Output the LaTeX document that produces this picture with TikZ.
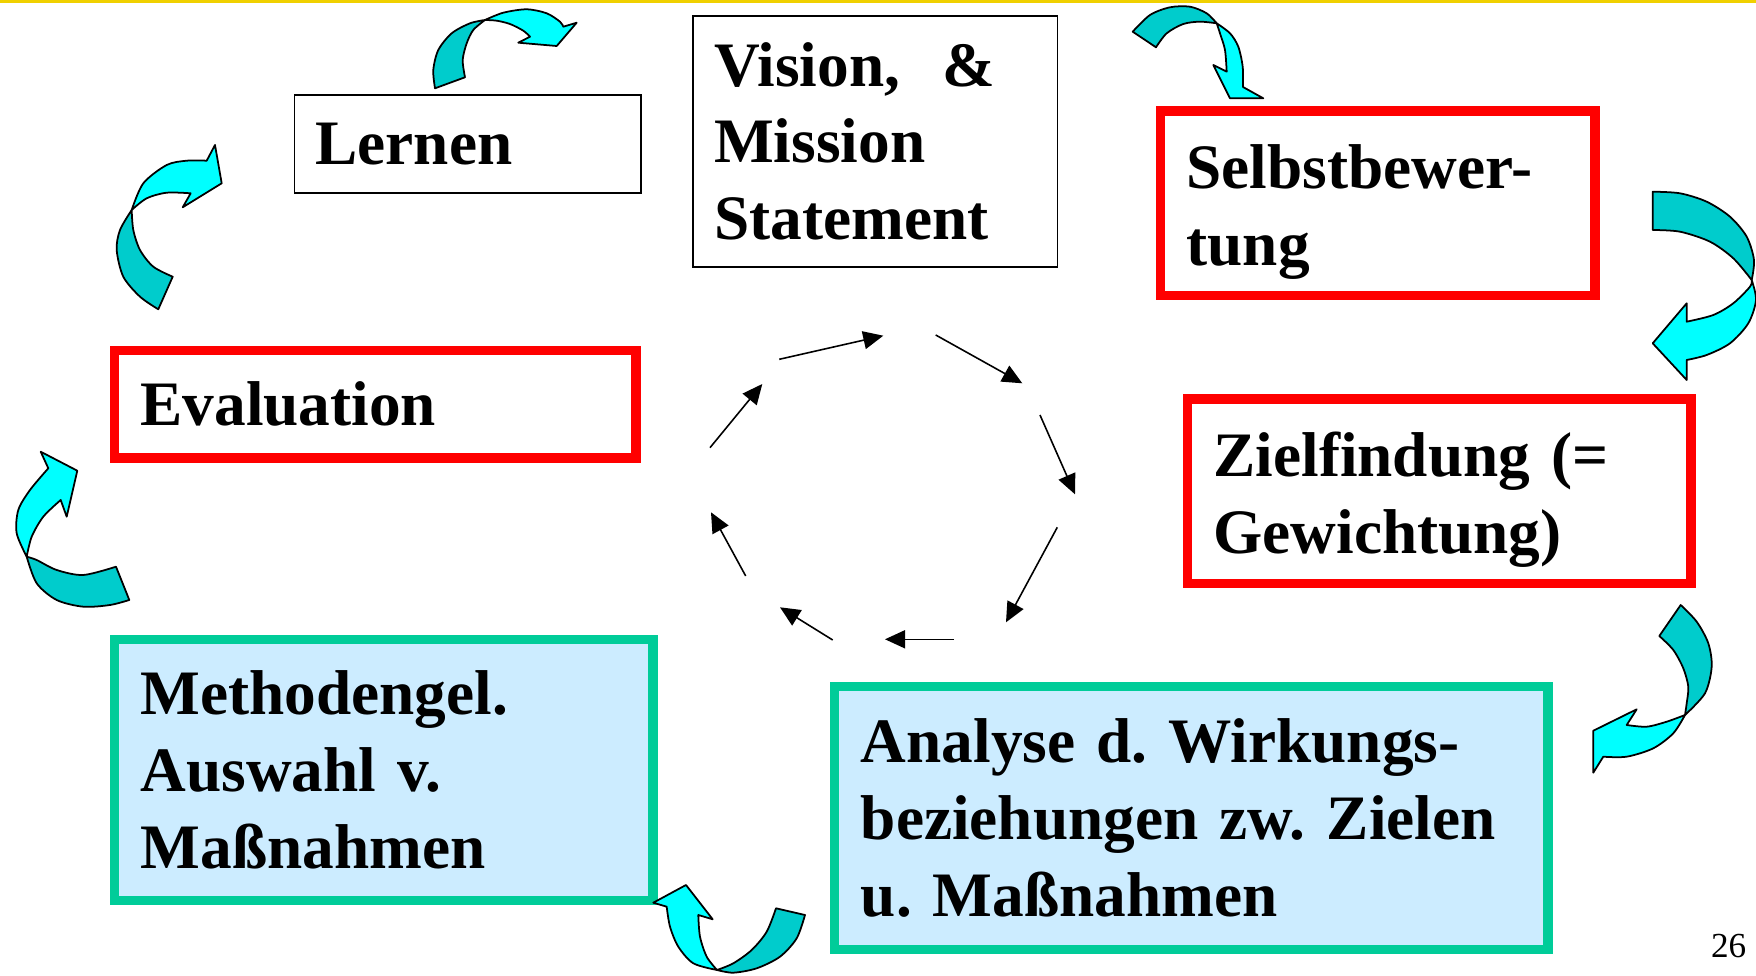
\documentclass[tikz,border=0pt]{standalone}
\usepackage{fontspec}
\setmainfont{Liberation Serif}
\usepackage{tikz}
\usetikzlibrary{arrows.meta}
\frenchspacing

\definecolor{framered}{RGB}{255,0,0}
\definecolor{frameteal}{RGB}{0,204,153}
\definecolor{paleblue}{RGB}{204,236,255}
\definecolor{bandcyan}{RGB}{0,255,255}
\definecolor{bandteal}{RGB}{0,204,204}
\definecolor{topyellow}{RGB}{240,208,0}

\begin{document}
\begin{tikzpicture}[
      x=0.01cm, y=-0.01cm,
      boxtext/.style={
        font=\fontsize{18}{21.8}\selectfont\bfseries,
        align=left,
        inner ysep=0pt
      },
      thinbox/.style={boxtext,draw=black,line width=0.5pt,fill=white,inner xsep=0.21cm},
      redbox/.style={boxtext,draw=framered,line width=0.095cm,fill=white,inner xsep=0.2625cm},
      tealbox/.style={boxtext,draw=frameteal,line width=0.095cm,fill=paleblue,inner xsep=0.2625cm},
      ringarrow/.style={-{Triangle[length=0.2cm,width=0.18cm]},line width=0.45pt},
      backband/.style={fill=bandteal,draw=black,line width=0.5pt,line join=round},
      frontband/.style={fill=bandcyan,draw=black,line width=0.5pt,line join=round}
    ]
    \path[fill=white,use as bounding box] (0,0) rectangle (1756,976);
    \draw[topyellow,line width=0.03cm] (0,1.5) -- (1756,1.5);

    % boxes of the cycle
    \node[thinbox,minimum width=3.46cm,minimum height=0.974cm,text width=3.04cm]
      (lernen) at (467.6,143.9) {Lernen};
    \node[thinbox,minimum width=3.64cm,minimum height=2.51cm,text width=3.22cm]
      (vision) at (875.3,141.2) {Vision,\ \ \&\\ Mission\\ Statement};
    \node[redbox,minimum width=4.341cm,minimum height=1.843cm,text width=3.816cm]
      (selbst) at (1377.6,203.3) {\rule{0pt}{17.5pt}Selbstbewer-\\ tung};
    \node[redbox,minimum width=5.035cm,minimum height=1.843cm,text width=4.51cm]
      (ziel) at (1439.2,491.1) {\rule{0pt}{17.5pt}Zielfindung (=\\ Gewichtung)};
    \node[redbox,minimum width=5.213cm,minimum height=1.071cm,text width=4.688cm]
      (eval) at (375.2,404.3) {Evaluation};
    \node[tealbox,minimum width=5.381cm,minimum height=2.605cm,text width=4.856cm]
      (methoden) at (383.6,770) {Methodengel.\\ Auswahl v.\\ Maßnahmen};
    \node[tealbox,minimum width=7.128cm,minimum height=2.627cm,text width=6.603cm]
      (analyse) at (1191.2,818.1) {Analyse d. Wirkungs-\\ beziehungen zw. Zielen\\ u. Maßnahmen};

    \node[anchor=base east,inner sep=0pt,font=\fontsize{10}{12}\selectfont]
      (pagenum) at (1747,957.6) {26};

    % inner ring of small arrows
    \coordinate (a1) at (779.3,359.3);  \coordinate (b1) at (883.3,335.7);
    \coordinate (a2) at (935.7,335);    \coordinate (b2) at (1022.3,383.3);
    \coordinate (a3) at (1040,415);     \coordinate (b3) at (1075,494.3);
    \coordinate (a4) at (1057.3,527.3); \coordinate (b4) at (1006,622.3);
    \coordinate (a5) at (954,639.3);    \coordinate (b5) at (885,639.3);
    \coordinate (a6) at (832.7,640);    \coordinate (b6) at (780,607.3);
    \coordinate (a7) at (745.7,576);    \coordinate (b7) at (711,512.3);
    \coordinate (a8) at (710,447.7);    \coordinate (b8) at (762.3,384);
    \foreach \i in {1,...,8}
      \draw[ringarrow] (a\i) -- (b\i);

    % curved arrows: Lernen -> Vision
    \draw[backband] plot[smooth] coordinates {(435,88.3) (433.3,70) (438.3,50) (451.7,33.3) (470,23.3) (485,20)}
      -- plot[smooth] coordinates {(485,20) (473.3,30) (466.7,43.3) (462.7,60) (465,77.3)} -- cycle;
    \draw[frontband] plot[smooth] coordinates {(485,20) (503.3,12.7) (526.7,9.3) (546.7,13.3) (560,21.7) (563.3,26.7)}
      -- (576.7,22.7) -- (556.7,46) -- (518.3,42.7) -- (530,36.7)
      -- plot[smooth] coordinates {(530,36.7) (523.3,30.7) (510,24) (496.7,20.7) (485,20)} -- cycle;

    % Vision -> Selbstbewertung
    \draw[backband] plot[smooth] coordinates {(1132.7,31.7) (1150,15) (1170,7.3) (1190,6.7) (1206.7,13.3) (1216.7,23.3)}
      -- plot[smooth] coordinates {(1216.7,23.3) (1200,21.7) (1183.3,24) (1166.7,33.3) (1156,47.3)} -- cycle;
    \draw[frontband] plot[smooth] coordinates {(1216.7,23.3) (1230,33.3) (1238.3,46.7) (1242.7,66.7) (1243,87)}
      -- (1263.3,98.3) -- (1230,98.3) -- (1213.3,65) -- (1226.7,71.7)
      -- plot[smooth] coordinates {(1226.7,71.7) (1225,50) (1220,33.3) (1216.7,23.3)} -- cycle;

    % Selbstbewertung -> Zielfindung
    \draw[backband] plot[smooth] coordinates {(1652.7,191.7) (1680,193.3) (1706.7,201.7) (1730,216.7) (1746.7,236.7) (1754,260) (1751.7,280)}
      -- plot[smooth] coordinates {(1751.7,280) (1733.3,258.3) (1710,241.7) (1680,231.7) (1652.7,230)} -- cycle;
    \draw[frontband] plot[smooth] coordinates {(1751.7,280) (1756,300) (1748.3,323.3) (1730,343.3) (1706.7,355) (1686.7,360)}
      -- (1686.7,380) -- (1652.7,343.3) -- (1686.7,303.3) -- (1686.7,321.7)
      -- plot[smooth] coordinates {(1686.7,321.7) (1713.3,315) (1733.3,303.3) (1750,286.7) (1751.7,280)} -- cycle;

    % Zielfindung -> Analyse
    \draw[backband] plot[smooth] coordinates {(1680.7,605) (1696.7,621.7) (1708.3,643.3) (1711.7,666.7) (1705,693.3) (1685,715)}
      -- plot[smooth] coordinates {(1685,715) (1686.7,703.3) (1688.3,686.7) (1683.3,668.3) (1673.3,650) (1659.3,636)} -- cycle;
    \draw[frontband] plot[smooth] coordinates {(1685,715) (1673.3,733.3) (1653.3,748.3) (1626.7,756.7) (1603.3,756.7)}
      -- (1593.3,772.7) -- (1593.3,730.7) -- (1636.7,709.3) -- (1626.7,725)
      -- plot[smooth] coordinates {(1626.7,725) (1646.7,726.7) (1666.7,721.7) (1685,715)} -- cycle;

    % Analyse -> Methoden
    \draw[backband] plot[smooth] coordinates {(805,915) (796.7,938.3) (780,956.7) (756.7,968.3) (733.3,972.7) (717,970)}
      -- plot[smooth] coordinates {(717,970) (733.3,963.3) (751.7,950) (766.7,931.7) (776,908.3)} -- cycle;
    \draw[frontband] plot[smooth] coordinates {(717,970) (693.3,963.3) (678.3,946.7) (670,926.7) (666.7,906.7)}
      -- (653.3,902.7) -- (686,885) -- (712.7,919.3) -- (698.3,915)
      -- plot[smooth] coordinates {(698.3,915) (700,936.7) (706.7,956.7) (717,970)} -- cycle;

    % Methoden -> Evaluation
    \draw[backband] plot[smooth] coordinates {(129.3,600) (110,605) (83.3,606.7) (56.7,600) (36.7,583.3) (26.7,556.7)}
      -- plot[smooth] coordinates {(26.7,556.7) (36.7,560) (56.7,570) (83.3,575) (116,566.7)} -- cycle;
    \draw[frontband] plot[smooth] coordinates {(26.7,556.7) (16.7,533.3) (18.3,510) (30,490) (48.3,468.3)}
      -- (40.7,451.7) -- (77.3,470.7) -- (66.7,516.7) -- (60.7,500)
      -- plot[smooth] coordinates {(60.7,500) (43.3,516.7) (31.7,536.7) (26.7,556.7)} -- cycle;

    % Evaluation -> Lernen
    \draw[backband] plot[smooth] coordinates {(158.3,309.3) (140,296.7) (123.3,276.7) (116.7,250) (120,230) (131.7,210)}
      -- plot[smooth] coordinates {(131.7,210) (133.3,230) (140,250) (153.3,266.7) (172.7,276.7)} -- cycle;
    \draw[frontband] plot[smooth] coordinates {(131.7,210) (143.3,183.3) (166.7,165) (186.7,160.7) (206.7,160.7)}
      -- (215,145) -- (221.7,183.3) -- (182.7,207.3) -- (190.7,193.3)
      -- plot[smooth] coordinates {(190.7,193.3) (166.7,192.7) (146.7,198.3) (131.7,210)} -- cycle;
  \end{tikzpicture}
\end{document}
